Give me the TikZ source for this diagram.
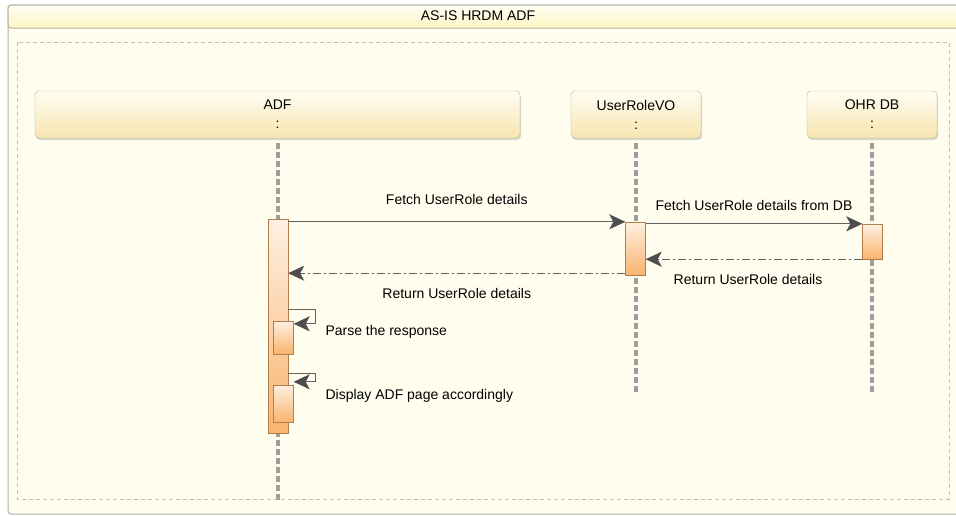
\documentclass[tikz,border=0pt]{standalone}
\usepackage{fontspec}
\setmainfont{Liberation Sans}
\usetikzlibrary{arrows.meta,shadows,calc}

\definecolor{paper}{HTML}{FFFEEE}
\definecolor{framegray}{HTML}{B4B0A4}
\definecolor{bartop}{HTML}{FEF0E2}
\definecolor{barbot}{HTML}{F9B46E}
\definecolor{headtop}{HTML}{FFFDF3}
\definecolor{headbot}{HTML}{F7E5AE}
\definecolor{titlebot}{HTML}{FDF6C4}
\definecolor{arrowgray}{HTML}{4E4E4E}

\begin{document}
\begin{tikzpicture}[x=1pt, y=-1pt,
  every node/.style={font=\fontsize{14}{16}\selectfont},
  header/.style={draw=framegray, rounded corners=4pt, top color=headtop, bottom color=headbot,
    minimum height=47pt, align=center, inner sep=0pt,
    drop shadow={shadow xshift=1pt, shadow yshift=-2pt, opacity=0.3}},
  lifeline/.style={draw=black!38, line width=4pt, dash pattern=on 6pt off 3pt},
  actbar/.style={draw=black!30!barbot, top color=bartop, bottom color=barbot,
    minimum width=20pt, inner sep=0pt},
  msg/.style={draw=black!62, line width=1pt,
    -{Stealth[length=16pt, width=15pt, inset=4pt, color=arrowgray]}},
  reply/.style={msg, dash pattern=on 8pt off 3pt on 2pt off 3pt}]

\useasboundingbox (0,0) rectangle (956,515);
\clip (0,0) rectangle (956,515);

% frame
\draw[framegray, fill=paper, rounded corners=3pt, line width=1pt] (8,5) rectangle (966,514);
\draw[framegray, top color=headtop, bottom color=titlebot, rounded corners=3pt, line width=1pt]
  (8,5) rectangle (966,28);
\node (title) at (478,16) {AS-IS HRDM ADF};
\draw[black!25, line width=0.7pt, dash pattern=on 4pt off 3pt] (17,42) rectangle (949,499);

% lifeline heads
\node[header, minimum width=485pt] (adf) at (277.5,114.5) {ADF\\[3pt]:};
\node[header, minimum width=130pt] (vo) at (636,114.5) {UserRoleVO\\[3pt]:};
\node[header, minimum width=130pt] (ohr) at (872,114.5) {OHR DB\\[3pt]:};

\coordinate (adfend) at (277.5,500);
\coordinate (voend) at (636,395);
\coordinate (ohrend) at (872,395);
\draw[lifeline] ([yshift=-5pt]adf.south) -- (adfend);
\draw[lifeline] ([yshift=-5pt]vo.south) -- (voend);
\draw[lifeline] ([yshift=-5pt]ohr.south) -- (ohrend);

% activations
\node[actbar, minimum height=214pt] (adfbar) at (278,326) {};
\node[actbar, minimum height=53pt] (vobar) at (635.5,248.5) {};
\node[actbar, minimum height=35pt] (ohrbar) at (872.5,241.5) {};
\node[actbar, minimum height=33pt] (parsebar) at (283.5,337.5) {};
\node[actbar, minimum height=37pt] (showbar) at (283.5,403.5) {};

% messages
\coordinate (backvo) at ($(vobar.south west)+(0,-2)$);
\draw[msg] (adfbar.east |- vobar.north) -- node[above=13pt] {Fetch UserRole details} (vobar.north west);
\draw[msg] (vobar.east |- ohrbar.north) -- node[above=9pt] {Fetch UserRole details from DB} (ohrbar.north west);
\draw[reply] (ohrbar.south west) -- node[below=11pt, xshift=-6pt] {Return UserRole details} (vobar.east |- ohrbar.south);
\draw[reply] (backvo) -- node[below=11pt] {Return UserRole details} (adfbar.east |- backvo);

% self calls
\coordinate (parsetop) at (315,309);
\coordinate (showtop) at (315,373);
\draw[msg] (adfbar.east |- parsetop) -- (parsetop) |- ($(parsebar.north east)+(0,3)$);
\draw[msg] (adfbar.east |- showtop) -- (showtop) |- ($(showbar.north east)+(0,-3)$);
\node[anchor=west] (parselbl) at (322,332) {Parse the response};
\node[anchor=west] (showlbl) at (322,396) {Display ADF page accordingly};
\end{tikzpicture}
\end{document}
